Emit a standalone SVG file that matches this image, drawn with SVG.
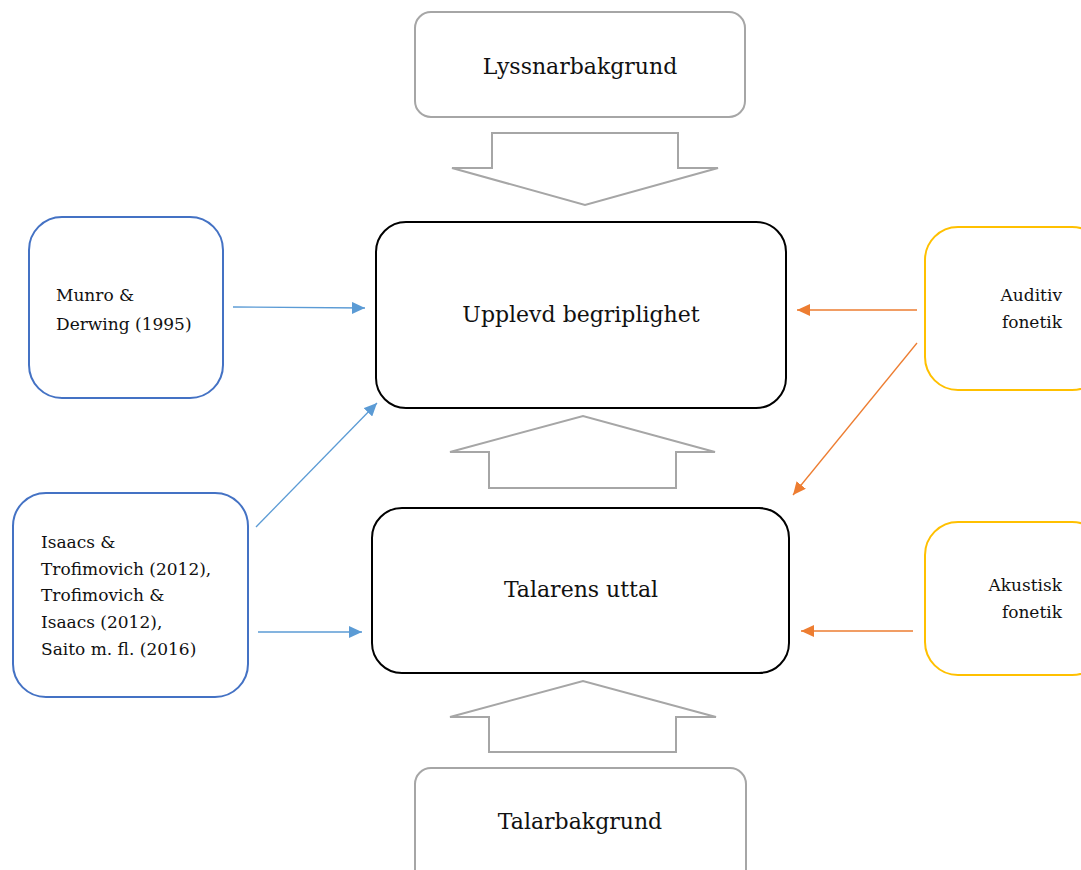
<svg xmlns="http://www.w3.org/2000/svg" width="1081" height="870" viewBox="0 0 1081 870">
<style>
text{font-family:"DejaVu Serif","Liberation Serif",serif;fill:#111}
.grey{fill:#fff;stroke:#a6a6a6;stroke-width:2}
.main{fill:#fff;stroke:#000;stroke-width:2}
.blue{fill:#fff;stroke:#4472c4;stroke-width:2}
.yel{fill:#fff;stroke:#ffc000;stroke-width:2}
.big{font-size:22px}
.small{font-size:17px}
.bl{stroke:#5b9bd5;stroke-width:1.3;fill:none}
.or{stroke:#ed7d31;stroke-width:1.3;fill:none}
</style>
<defs>
<marker id="mb" markerUnits="userSpaceOnUse" markerWidth="14" markerHeight="12" refX="13" refY="6" orient="auto"><path d="M0,0 L13,6 L0,12 z" fill="#5b9bd5"/></marker>
<marker id="mo" markerUnits="userSpaceOnUse" markerWidth="14" markerHeight="12" refX="13" refY="6" orient="auto"><path d="M0,0 L13,6 L0,12 z" fill="#ed7d31"/></marker>
</defs>
<rect width="1081" height="870" fill="#fff"/>
<g id="lyssnar"><rect class="grey" x="415" y="12" width="330" height="105" rx="16"/><text class="big" x="580" y="74" text-anchor="middle">Lyssnarbakgrund</text></g>
<g id="arrow-down"><path class="grey" d="M492,133 L678,133 L678,168 L718,168 L585,205 L452,168 L492,168 Z"/></g>
<g id="upplevd"><rect class="main" x="376" y="222" width="410" height="186" rx="30"/><text class="big" x="581" y="322" text-anchor="middle">Upplevd begriplighet</text></g>
<g id="munro"><rect class="blue" x="29" y="217" width="194" height="181" rx="33"/><text class="small" x="56" y="301">Munro &amp;</text><text class="small" x="56" y="330">Derwing (1995)</text></g>
<g id="auditiv"><rect class="yel" x="925" y="227" width="180" height="163" rx="33"/><text class="small" x="1062" y="301" text-anchor="end">Auditiv</text><text class="small" x="1062" y="328" text-anchor="end">fonetik</text></g>
<g id="arrow-up1"><path class="grey" d="M489,488 L676,488 L676,452 L715,452 L583,416 L450,452 L489,452 Z"/></g>
<g id="talarens"><rect class="main" x="372" y="508" width="417" height="165" rx="30"/><text class="big" x="581" y="597" text-anchor="middle">Talarens uttal</text></g>
<g id="isaacs"><rect class="blue" x="13" y="493" width="235" height="204" rx="33"/>
<text class="small" x="41" y="548">Isaacs &amp;</text>
<text class="small" x="41" y="575">Trofimovich (2012),</text>
<text class="small" x="41" y="601">Trofimovich &amp;</text>
<text class="small" x="41" y="628">Isaacs (2012),</text>
<text class="small" x="41" y="655">Saito m. fl. (2016)</text></g>
<g id="akustisk"><rect class="yel" x="925" y="522" width="180" height="153" rx="33"/><text class="small" x="1062" y="591" text-anchor="end">Akustisk</text><text class="small" x="1062" y="618" text-anchor="end">fonetik</text></g>
<g id="arrow-up2"><path class="grey" d="M489,752 L676,752 L676,717 L716,717 L583,681 L450,717 L489,717 Z"/></g>
<g id="talar"><rect class="grey" x="415" y="768" width="331" height="120" rx="16"/><text class="big" x="580" y="829" text-anchor="middle">Talarbakgrund</text></g>
<g id="connectors">
<line class="bl" x1="233" y1="307" x2="365" y2="308" marker-end="url(#mb)"/>
<line class="bl" x1="256" y1="527" x2="377" y2="403" marker-end="url(#mb)"/>
<line class="bl" x1="258" y1="632" x2="362" y2="632" marker-end="url(#mb)"/>
<line class="or" x1="917" y1="310" x2="797" y2="310" marker-end="url(#mo)"/>
<line class="or" x1="917" y1="343" x2="793" y2="495" marker-end="url(#mo)"/>
<line class="or" x1="913" y1="631" x2="801" y2="631" marker-end="url(#mo)"/>
</g>
</svg>
